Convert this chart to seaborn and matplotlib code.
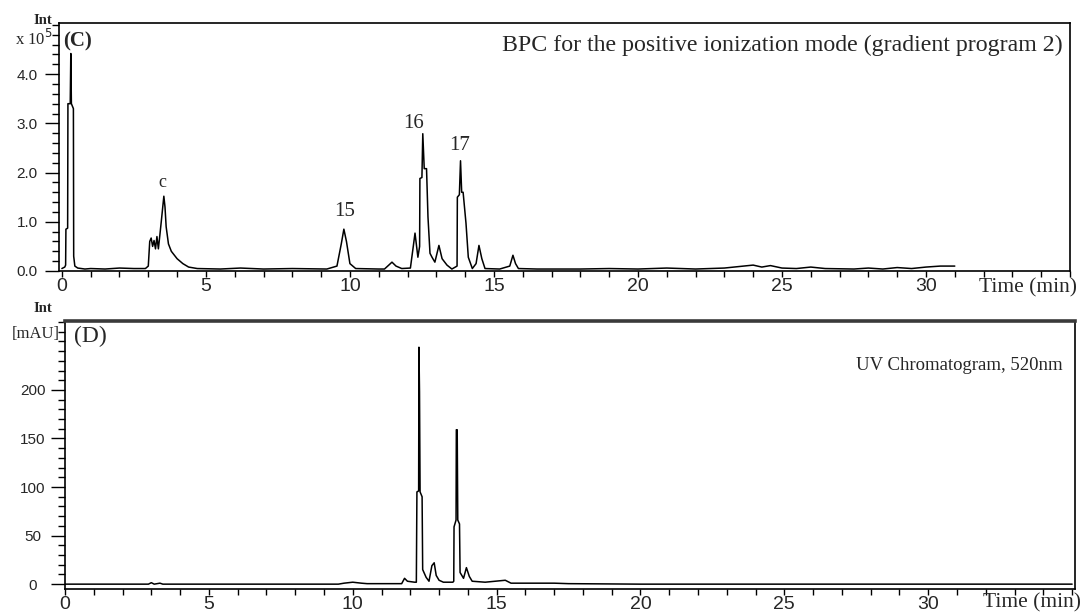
import numpy as np
import pandas as pd
import seaborn as sns
import matplotlib.pyplot as plt
from matplotlib.ticker import MultipleLocator, FixedLocator, FormatStrFormatter

# BPC trace, positive ionization mode (intensity in x 10^5)
bpc_time = [0.00, 0.10, 0.13, 0.14, 0.20, 0.21, 0.29, 0.31, 0.33, 0.40, 0.41, 0.45, 0.55, 0.80, 1.00,
            1.50, 2.00, 2.50, 2.90, 3.00, 3.05, 3.10, 3.15, 3.20, 3.25, 3.30, 3.35, 3.40, 3.45, 3.54,
            3.58, 3.62, 3.70, 3.80, 4.00, 4.20, 4.40, 4.70, 5.50, 6.20, 7.00, 8.00, 9.20, 9.55, 9.70,
            9.79, 9.88, 10.00, 10.20, 11.00, 11.20, 11.35, 11.46, 11.60, 11.80, 12.10, 12.20, 12.26,
            12.36, 12.42, 12.43, 12.50, 12.53, 12.58, 12.66, 12.71, 12.78, 12.85, 12.95, 13.09, 13.20,
            13.37, 13.54, 13.72, 13.73, 13.80, 13.84, 13.88, 13.93, 14.03, 14.11, 14.25, 14.38, 14.48,
            14.58, 14.69, 15.20, 15.55, 15.66, 15.75, 15.85, 16.50, 18.00, 19.00, 20.00, 21.00, 22.00,
            23.00, 23.50, 24.00, 24.30, 24.60, 25.00, 25.50, 26.00, 26.50, 27.50, 28.00, 28.50, 29.00,
            29.50, 30.00, 30.50, 31.00]
bpc_int = [0.05, 0.08, 0.12, 0.85, 0.87, 3.40, 3.40, 4.42, 3.40, 3.30, 0.30, 0.10, 0.06, 0.04, 0.05,
           0.04, 0.06, 0.05, 0.05, 0.10, 0.60, 0.67, 0.50, 0.62, 0.45, 0.70, 0.45, 0.72, 1.00, 1.52,
           1.30, 0.90, 0.55, 0.40, 0.25, 0.15, 0.08, 0.05, 0.04, 0.06, 0.04, 0.05, 0.04, 0.10, 0.55,
           0.85, 0.60, 0.15, 0.05, 0.04, 0.04, 0.12, 0.18, 0.10, 0.05, 0.06, 0.50, 0.77,
           0.28, 0.50, 1.88, 1.90, 2.79, 2.08, 2.08, 1.10, 0.36, 0.28, 0.18, 0.52, 0.25,
           0.12, 0.04, 0.10, 1.50, 1.55, 2.24, 1.60, 1.60, 0.97, 0.28, 0.05, 0.15, 0.52,
           0.25, 0.05, 0.04, 0.10, 0.32, 0.15, 0.05, 0.04, 0.04, 0.05, 0.04, 0.06, 0.04,
           0.06, 0.09, 0.12, 0.08, 0.11, 0.06, 0.05, 0.08, 0.05, 0.04, 0.06, 0.04, 0.07,
           0.05, 0.08, 0.10, 0.10]

# UV chromatogram at 520 nm (mAU)
uv_time = [0.00, 2.90, 3.00, 3.10, 3.30, 3.40, 9.50, 9.70, 10.00, 10.30, 10.50, 11.00, 11.70, 11.80,
           11.90, 12.15, 12.21, 12.23, 12.29, 12.30, 12.32, 12.34, 12.41, 12.43, 12.55, 12.65, 12.75,
           12.83, 12.90, 13.00, 13.15, 13.48, 13.51, 13.52, 13.59, 13.60, 13.63, 13.65, 13.71, 13.73,
           13.85, 13.95, 14.05, 14.15, 14.60, 15.30, 15.50, 17.00, 17.50, 20.00, 35.00]
uv_int = [0, 0, 1.5, 0, 1, 0, 0, 1, 2, 1, 0.5, 0.5, 0.5, 6,
          3, 2, 2, 95, 96, 244, 198, 95, 90, 15, 7, 3, 19,
          22, 9, 4, 2, 2, 3, 59, 66, 159, 159, 66, 62, 12,
          6, 17, 8, 3, 2, 4, 1, 1, 0.5, 0, 0]

peak_names = ["c", "15", "16", "17"]
peak_label_x = [3.5, 9.8, 12.2, 13.8]
peak_label_y = [1.8, 1.2, 3.0, 2.56]
peak_label_size = [13, 15, 15, 15]

bpc = pd.DataFrame({"time": bpc_time, "intensity": bpc_int})
uv = pd.DataFrame({"time": uv_time, "intensity": uv_int})

sns.set_style("ticks")
plt.rcParams["font.family"] = ["Liberation Serif", "DejaVu Serif"]

W, H = 1083, 614
fig = plt.figure(figsize=(W / 100, H / 100), dpi=100)


def px(x, y):
    return x / W, 1 - y / H


ax1 = fig.add_axes([59 / W, 1 - 271 / H, (1070 - 59) / W, (271 - 23) / H])
ax2 = fig.add_axes([65 / W, 1 - 589 / H, (1075 - 65) / W, (589 - 321) / H])

sns.lineplot(data=bpc, x="time", y="intensity", sort=False, estimator=None,
             color="black", lw=1.1, ax=ax1)
sns.lineplot(data=uv, x="time", y="intensity", sort=False, estimator=None,
             color="black", lw=1.1, ax=ax2)

ax1.set_xlim(-0.1, 35.0)
ax1.set_ylim(0, 5.04)
ax2.set_xlim(0, 35.1)
ax2.set_ylim(-5, 271)

ax1.set_yticks([0, 1, 2, 3, 4])
ax1.yaxis.set_minor_locator(MultipleLocator(0.2))
ax1.yaxis.set_major_formatter(FormatStrFormatter("%.1f"))
ax2.set_yticks([0, 50, 100, 150, 200])
ax2.yaxis.set_minor_locator(MultipleLocator(10))

for ax in (ax1, ax2):
    ax.set_xlabel("")
    ax.set_ylabel("")
    ax.xaxis.set_major_locator(FixedLocator([0, 5, 10, 15, 20, 25, 30]))
    ax.xaxis.set_minor_locator(MultipleLocator(1))
    ax.tick_params(axis="x", which="both", direction="out", length=4, width=1,
                   pad=1, labelsize=14, color="black")
    ax.tick_params(axis="y", which="major", direction="out", length=10, width=1,
                   pad=13, labelsize=11, color="black")
    ax.tick_params(axis="y", which="minor", direction="out", length=5, width=1,
                   color="black")
    for lab in ax.get_xticklabels() + ax.get_yticklabels():
        lab.set_fontfamily("Liberation Sans")
    for lab in ax.get_yticklabels():
        lab.set_horizontalalignment("center")
    for s in ax.spines.values():
        s.set_color("black")
        s.set_linewidth(1.2)

ax2.spines["top"].set_linewidth(2.6)
ax2.spines["top"].set_color("#3a3a3a")

# peak labels
for name, x, y, fs in zip(peak_names, peak_label_x, peak_label_y, peak_label_size):
    ax1.text(x, y, name, ha="center", va="center", fontsize=fs)

fig.text(*px(1063, 45), "BPC for the positive ionization mode (gradient program 2)",
         ha="right", va="center", fontsize=17.2)
fig.text(*px(1063, 365), "UV Chromatogram, 520nm", ha="right", va="center", fontsize=13.5)

fig.text(*px(78, 41), "(C)", ha="center", va="center", fontsize=15, fontweight="bold")
fig.text(*px(90, 336), "(D)", ha="center", va="center", fontsize=17)
fig.text(*px(43, 20), "Int", ha="center", va="center", fontsize=10.5, fontweight="bold")
fig.text(*px(34, 39), "x 10$^5$", ha="center", va="center", fontsize=12)
fig.text(*px(43, 309), "Int", ha="center", va="center", fontsize=10.5, fontweight="bold")
fig.text(*px(36, 334), "[mAU]", ha="center", va="center", fontsize=12)
fig.text(*px(1077, 288), "Time (min)", ha="right", va="center", fontsize=15.5)
fig.text(*px(1081, 603), "Time (min)", ha="right", va="center", fontsize=15.5)

fig.savefig("out.png", dpi=100, facecolor="white")
